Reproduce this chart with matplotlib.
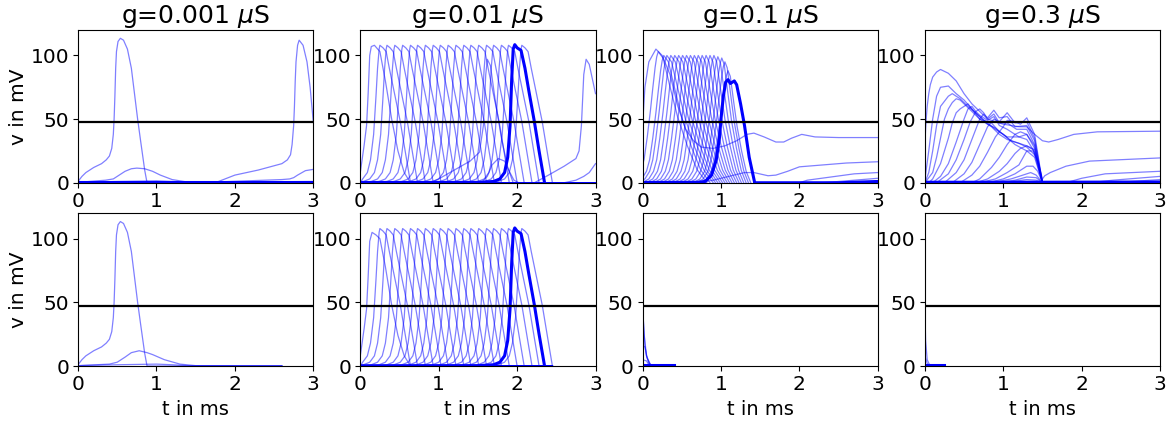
import numpy as np
import matplotlib
matplotlib.use("Agg")
import matplotlib.pyplot as plt

titles = ["g=0.001 $\\mu$S", "g=0.01 $\\mu$S", "g=0.1 $\\mu$S", "g=0.3 $\\mu$S"]
threshold = 47.5

# g=0.001, (t, v) pairs
g1_first = [(0, 1), (0.05, 5), (0.1, 8), (0.2, 12), (0.3, 15), (0.36, 18), (0.4, 21), (0.43, 27), (0.45, 38), (0.46, 50),
            (0.47, 68), (0.48, 90), (0.49, 103), (0.51, 111), (0.54, 113.5), (0.58, 112), (0.63, 105), (0.68, 90), (0.72, 70),
            (0.76, 50), (0.8, 32), (0.85, 10), (0.88, 0), (3, 0)]
g1_second = [(0, 0), (1.75, 0), (2, 6), (2.3, 10), (2.6, 15), (2.67, 18), (2.71, 22), (2.73, 30), (2.75, 45), (2.76, 60),
             (2.77, 80), (2.78, 95), (2.8, 108), (2.82, 112), (2.87, 108), (2.92, 95), (2.96, 75), (3, 48)]
g1_hump = [(0, 0.3), (0.35, 2), (0.45, 3), (0.5, 5), (0.55, 7), (0.6, 9), (0.68, 11), (0.75, 11.5), (0.85, 11), (0.95, 9),
           (1.05, 6), (1.2, 2.5), (1.4, 0.5), (1.5, 0), (2.6, 2.5), (2.7, 3), (2.75, 4), (2.8, 6), (2.9, 9.5), (3, 10.5)]
g1_low = [(0, 0.3), (0.5, 1), (1, 1.5), (1.2, 1), (1.4, 0.3), (2, 0.5), (3, 1)]
g1_base = [(0, 0.3), (3, 0.3)]

g1_hump_bottom = [(0, 0.3), (0.4, 1.5), (0.5, 3), (0.55, 5), (0.6, 7), (0.68, 10.5), (0.78, 12), (0.88, 10.5), (0.95, 9),
                  (1.1, 5), (1.3, 1.5), (1.5, 0.3), (2.6, 0)]
g1_first_bottom = [p for p in g1_first[:-1]] + [(2.6, 0)]
g1_low_bottom = [(0, 0.3), (0.5, 1), (1, 1.5), (1.2, 1), (1.4, 0.3), (2.6, 0.3)]

# g=0.01, the travelling spike, read relative to its peak
g2_spike_t = [-0.40, -0.30, -0.22, -0.16, -0.12, -0.08, -0.05, -0.03, -0.01, 0, 0.04, 0.08, 0.12, 0.18, 0.26, 0.33, 0.39]
g2_spike_v = [0.3, 1, 3, 8, 18, 38, 68, 90, 105, 108, 106, 103, 90, 72, 48, 22, 0]
g2_peaks = [0.25, 0.34, 0.44, 0.54, 0.64, 0.73, 0.83, 0.93, 1.02, 1.12, 1.22, 1.32, 1.41, 1.51, 1.61, 1.70, 1.80, 1.89, 2.06]
g2_bold = [(0, 0.2), (1.5, 0.3), (1.7, 1), (1.78, 3), (1.84, 8), (1.88, 20), (1.91, 45), (1.93, 80), (1.95, 105),
           (1.97, 108.5), (2.0, 106), (2.05, 104), (2.1, 90), (2.15, 72), (2.22, 48), (2.28, 25), (2.35, 0)]
g2_first_top = [(0, 8), (0.05, 30), (0.08, 45), (0.1, 70), (0.12, 100), (0.14, 107), (0.18, 108), (0.25, 103),
                (0.32, 80), (0.4, 50), (0.48, 25), (0.56, 8), (0.64, 0), (3, 0)]
g2_first_bottom = [(0, 8), (0.05, 30), (0.08, 45), (0.1, 70), (0.12, 98), (0.15, 105), (0.2, 103), (0.25, 100),
                   (0.32, 78), (0.4, 48), (0.48, 24), (0.56, 8), (0.64, 0), (2.4, 0)]
g2_broken = [(0.9, 0), (1.0, 3), (1.2, 10), (1.4, 17), (1.52, 24), (1.57, 45), (1.6, 85), (1.62, 97), (1.66, 92),
             (1.72, 65), (1.8, 35), (1.88, 12), (1.95, 0)]
g2_hump = [(1.55, 0.5), (1.62, 5), (1.68, 14), (1.76, 19), (1.84, 17), (1.9, 9), (1.96, 2), (2.02, 0)]
g2_late = [(2.22, 0), (2.4, 6), (2.6, 13), (2.75, 19), (2.79, 25), (2.82, 45), (2.85, 85), (2.88, 97), (2.92, 93), (3, 70)]
g2_late_low = [(2.6, 0), (2.75, 2), (2.85, 5), (2.92, 8), (3, 15)]

# g=0.1, peak position, height and end of each spike
g3_rise_t = [-0.35, -0.28, -0.22, -0.18, -0.14, -0.10, -0.07, -0.04, -0.02, 0]
g3_rise_v = [0.005, 0.03, 0.09, 0.18, 0.35, 0.55, 0.72, 0.88, 0.96, 1]
g3_fall_t = [0, 0.1, 0.25, 0.4, 0.6, 0.8, 1]
g3_fall_v = [1, 0.95, 0.72, 0.5, 0.28, 0.1, 0]
g3_peaks = [0.2, 0.27, 0.31, 0.36, 0.41, 0.46, 0.51, 0.56, 0.61, 0.66, 0.71, 0.76, 0.81, 0.86, 0.91, 0.96, 1.01, 1.05, 1.09]
g3_heights = [103, 100, 100, 100, 100, 100, 100, 100, 100, 100, 100, 100, 100, 100, 100, 99, 98, 95, 88]
g3_ends = [0.82, 0.86, 0.90, 0.93, 0.96, 0.99, 1.02, 1.05, 1.08, 1.11, 1.14, 1.17, 1.20, 1.23, 1.26, 1.29, 1.32, 1.35, 1.38]
g3_bold = [(0, 0.2), (0.7, 0.3), (0.8, 1), (0.88, 6), (0.94, 18), (0.98, 35), (1.0, 50), (1.03, 68), (1.06, 79),
           (1.09, 81), (1.12, 78), (1.17, 80), (1.2, 77), (1.25, 62), (1.3, 45), (1.36, 20), (1.43, 0)]
g3_first = [(0, 45), (0.03, 75), (0.08, 95), (0.17, 105), (0.25, 100), (0.35, 85), (0.45, 60), (0.55, 42), (0.65, 33),
            (0.75, 28), (0.9, 27), (1.05, 29), (1.2, 33), (1.33, 38), (1.42, 39), (1.55, 36), (1.7, 32), (1.8, 32),
            (1.9, 35), (2.03, 38), (2.2, 36), (2.5, 35.5), (3, 35.5)]
g3_tail_a = [(0.7, 0), (0.9, 2), (1.1, 5), (1.3, 8), (1.42, 8), (1.6, 5.5), (1.7, 6), (1.85, 9), (2, 12.5), (2.3, 14),
             (2.6, 15.5), (3, 16.5)]
g3_tail_b = [(2.0, 0), (2.1, 2), (2.4, 4.5), (2.7, 7), (3, 8)]
g3_tail_c = [(2.3, 0), (2.6, 1.5), (3, 3.5)]
g3_tail_d = [(1.43, 0), (2.5, 0), (3, 1)]

g3_bottom_a = [(0, 47), (0.02, 25), (0.05, 8), (0.1, 1), (0.2, 0.5), (0.4, 0.3)]
g3_bottom_b = [(0, 16), (0.03, 15), (0.06, 6), (0.1, 1), (0.4, 0.3)]
g3_bottom_c = [(0, 5), (0.05, 4), (0.08, 1), (0.4, 0.3)]
g3_bottom_d = [(0, 47), (0.015, 30), (0.03, 16), (0.05, 8), (0.08, 2), (0.12, 0.5)]
g3_bottom_bold = [(0, 0.5), (0.4, 0.5)]

# g=0.3, every curve read on its own
g4_curves = [
    [(0, 30), (0.01, 42), (0.02, 52), (0.03, 60), (0.05, 70), (0.07, 77), (0.1, 83), (0.15, 87), (0.2, 89), (0.3, 86), (0.4, 80),
     (0.5, 70), (0.6, 62), (0.7, 56), (0.8, 50), (0.9, 48), (1.0, 46), (1.1, 45), (1.2, 44), (1.3, 44), (1.4, 38), (1.5, 33),
     (1.58, 32), (1.7, 34), (1.9, 38), (2.2, 40), (3, 40.5)],
    [(0, 2), (0.05, 25), (0.1, 50), (0.15, 68), (0.2, 75), (0.3, 76), (0.4, 70), (0.5, 65), (0.6, 58), (0.7, 52),
     (0.8, 47), (0.9, 42), (1, 38), (1.1, 33), (1.2, 31), (1.3, 29), (1.38, 26), (1.45, 15), (1.5, 3), (1.53, 5.5),
     (1.6, 8), (1.8, 13), (2.1, 17), (3, 19.5)],
    [(0, 0), (0.05, 8), (0.1, 25), (0.15, 45), (0.2, 60), (0.3, 68), (0.35, 70), (0.45, 66), (0.55, 60), (0.7, 52),
     (0.8, 46), (0.9, 43), (1, 38), (1.15, 30), (1.3, 25), (1.4, 20), (1.5, 0), (1.8, 0), (2, 3.5), (2.3, 7), (3, 9)],
    [(0, 0), (0.1, 8), (0.15, 20), (0.2, 35), (0.25, 50), (0.3, 58), (0.35, 63), (0.4, 66), (0.45, 65), (0.5, 62),
     (0.6, 56), (0.7, 50), (0.8, 46), (0.85, 44), (0.95, 38), (1.05, 34), (1.2, 31), (1.3, 28), (1.4, 22), (1.5, 0),
     (2.1, 0), (2.4, 2), (3, 5)],
    [(0.05, 0), (0.1, 3), (0.2, 15), (0.3, 35), (0.35, 47), (0.4, 55), (0.45, 58), (0.5, 60), (0.55, 62), (0.6, 58),
     (0.65, 54), (0.7, 50), (0.8, 48), (0.85, 47), (0.95, 40), (1.05, 36), (1.2, 36), (1.3, 34), (1.4, 24), (1.5, 0),
     (2.4, 0), (3, 2.5)],
    [(0.1, 0), (0.2, 5), (0.3, 15), (0.4, 32), (0.5, 50), (0.55, 58), (0.6, 60), (0.65, 56), (0.7, 53), (0.8, 49),
     (0.88, 52), (0.95, 45), (1.05, 42), (1.2, 36), (1.3, 38), (1.4, 27), (1.5, 0)],
    [(0.15, 0), (0.3, 7), (0.4, 18), (0.5, 34), (0.58, 48), (0.65, 56), (0.7, 58), (0.75, 55), (0.8, 50), (0.88, 54),
     (0.95, 47), (1.05, 47), (1.17, 42), (1.3, 42), (1.4, 30), (1.5, 0)],
    [(0.25, 0), (0.4, 8), (0.5, 18), (0.6, 34), (0.7, 50), (0.75, 54), (0.8, 51), (0.88, 57), (0.95, 51), (1.05, 52),
     (1.15, 44), (1.3, 45), (1.4, 33), (1.5, 0)],
    [(0.35, 0), (0.5, 7), (0.6, 16), (0.7, 30), (0.8, 44), (0.88, 50), (0.95, 48), (1.05, 55), (1.15, 47), (1.3, 48),
     (1.4, 35), (1.5, 0)],
    [(0.45, 0), (0.6, 6), (0.7, 13), (0.8, 24), (0.9, 36), (1.0, 44), (1.05, 49), (1.15, 48), (1.22, 46), (1.3, 51),
     (1.4, 38), (1.5, 0)],
    [(0.6, 0), (0.7, 3), (0.85, 12), (0.95, 20), (1.05, 30), (1.15, 38), (1.22, 40), (1.3, 38), (1.4, 29), (1.5, 0)],
    [(0.65, 0), (0.8, 3), (0.95, 9), (1.05, 15), (1.15, 23), (1.22, 27), (1.3, 29), (1.4, 26), (1.5, 0)],
    [(0.7, 0), (0.9, 3), (1.05, 8), (1.2, 14), (1.3, 25), (1.38, 25), (1.44, 17), (1.5, 0)],
    [(0.8, 0), (1.0, 3), (1.15, 7), (1.3, 13), (1.38, 13), (1.44, 9), (1.5, 0)],
    [(0.85, 0), (1.1, 3), (1.25, 6), (1.35, 8), (1.42, 6), (1.5, 0)],
    [(0.9, 0), (1.15, 2), (1.3, 4.5), (1.42, 4), (1.5, 0)],
    [(1.0, 0), (1.3, 2.5), (1.42, 2), (1.5, 0)],
]
g4_base = [(0, 0.4), (1.5, 0.4), (3, 0.6)]
g4_bottom_a = [(0, 47), (0.01, 20), (0.03, 5), (0.06, 1), (0.25, 0.3)]
g4_bottom_b = [(0, 8), (0.03, 2), (0.06, 0.5), (0.25, 0.3)]
g4_bottom_bold = [(0, 0.5), (0.25, 0.5)]


def thin(ax, pts):
    t, v = zip(*pts)
    ax.plot(t, v, color="blue", lw=0.9, alpha=0.5)


def bold(ax, pts):
    t, v = zip(*pts)
    ax.plot(t, v, color="blue", lw=2.2)


def g2_spikes(ax, stop):
    for peak in g2_peaks:
        t = [0] + [peak + s for s in g2_spike_t] + [stop]
        v = [0] + g2_spike_v + [0]
        order = np.argsort(t)
        ax.plot(np.array(t)[order], np.array(v)[order], color="blue", lw=0.9, alpha=0.5)


def g3_spikes(ax):
    for peak, height, end in zip(g3_peaks, g3_heights, g3_ends):
        t = [peak + s for s in g3_rise_t] + [peak + f * (end - peak) for f in g3_fall_t[1:]]
        v = [height * r for r in g3_rise_v] + [height * r for r in g3_fall_v[1:]]
        ax.plot(t, v, color="blue", lw=0.9, alpha=0.5)


fig, axes = plt.subplots(2, 4, figsize=(11.7, 4.21), dpi=100)
fig.subplots_adjust(left=0.0667, right=0.9915, top=0.9287, bottom=0.1306, wspace=0.2, hspace=0.2)

# top row
for pts in [g1_first, g1_second, g1_hump, g1_low]:
    thin(axes[0, 0], pts)
bold(axes[0, 0], g1_base)

g2_spikes(axes[0, 1], 3)
for pts in [g2_first_top, g2_broken, g2_hump, g2_late, g2_late_low]:
    thin(axes[0, 1], pts)
bold(axes[0, 1], g2_bold)

g3_spikes(axes[0, 2])
for pts in [g3_first, g3_tail_a, g3_tail_b, g3_tail_c]:
    thin(axes[0, 2], pts)
bold(axes[0, 2], g3_bold)
bold(axes[0, 2], g3_tail_d)

for pts in g4_curves:
    thin(axes[0, 3], pts)
bold(axes[0, 3], g4_base)

# bottom row
for pts in [g1_first_bottom, g1_hump_bottom, g1_low_bottom]:
    thin(axes[1, 0], pts)

g2_spikes(axes[1, 1], 2.45)
thin(axes[1, 1], g2_first_bottom)
bold(axes[1, 1], g2_bold)

for pts in [g3_bottom_a, g3_bottom_b, g3_bottom_c, g3_bottom_d]:
    thin(axes[1, 2], pts)
bold(axes[1, 2], g3_bottom_bold)

for pts in [g4_bottom_a, g4_bottom_b]:
    thin(axes[1, 3], pts)
bold(axes[1, 3], g4_bottom_bold)

for row in range(2):
    for col in range(4):
        ax = axes[row, col]
        ax.axhline(threshold, color="black", lw=1.6)
        ax.set_xlim(0, 3)
        ax.set_ylim(0, 120)
        ax.set_xticks([0, 1, 2, 3])
        ax.set_yticks([0, 50, 100])
        ax.tick_params(labelsize=14.5, pad=3)
        if row == 0:
            ax.set_title(titles[col], fontsize=18, pad=5)
        else:
            ax.set_xlabel("t in ms", fontsize=14, labelpad=4)
    axes[row, 0].set_ylabel("v in mV", fontsize=14.5, labelpad=2)

fig.savefig("out.png", dpi=100)
